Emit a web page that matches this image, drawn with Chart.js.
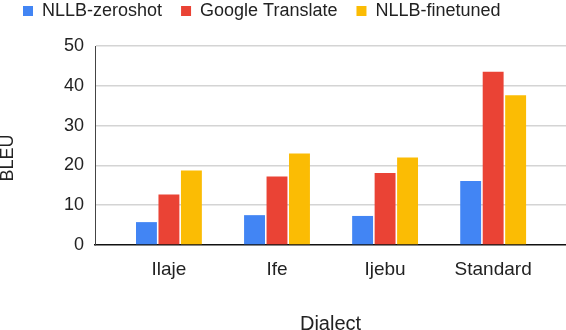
<!DOCTYPE html>
<html>
<head>
<meta charset="utf-8">
<script src="https://cdn.jsdelivr.net/npm/chart.js@4/dist/chart.umd.min.js"></script>
<style>
html,body{margin:0;padding:0;background:#fff;}
#wrap{width:566px;height:330px;position:relative;}
</style>
</head>
<body>
<div id="wrap"><canvas id="c" width="566" height="330"></canvas></div>
<script>
const categories = ["Ilaje", "Ife", "Ijebu", "Standard"];
const seriesNames = ["NLLB-zeroshot", "Google Translate", "NLLB-finetuned"];
const zeroshot = [5.75, 7.5, 7.3, 16.1];
const google = [12.7, 17.2, 18.1, 43.5];
const finetuned = [18.7, 23.0, 22.0, 37.6];
const yTicks = [0, 10, 20, 30, 40, 50];
const colors = ["#4285F4", "#EA4335", "#FBBC04"];
const yTitle = "BLEU";
const xTitle = "Dialect";

const FONT = "'Liberation Sans', Arial, sans-serif";
const toPts = arr => arr.map((v, i) => ({x: i, y: v}));

const PAD_TOP = -17;
const CHART_TOP = 46;

// make the legend box tall enough that the plot area starts at CHART_TOP
const legendHeight = {
  id: 'legendHeight',
  beforeLayout(chart) {
    const lg = chart.legend;
    if (lg && !lg._patched) {
      const orig = lg.fit.bind(lg);
      lg.fit = function () { orig(); this.height = CHART_TOP - PAD_TOP; };
      lg._patched = true;
    }
  }
};

// y-axis title, placed like the reference (rotated, left side)
const yTitlePlugin = {
  id: 'yTitle',
  afterDraw(chart) {
    const ctx = chart.ctx;
    const ys = chart.scales.y;
    const cy = ys.getPixelForValue(ys.min) - 87;
    ctx.save();
    ctx.translate(8.5, cy);
    ctx.rotate(-Math.PI / 2);
    ctx.font = "18px " + FONT;
    ctx.fillStyle = '#222';
    ctx.textAlign = 'center';
    ctx.textBaseline = 'middle';
    ctx.fillText(yTitle, 0, 0);
    ctx.restore();
  }
};

new Chart(document.getElementById('c'), {
  type: 'bar',
  data: {
    datasets: [zeroshot, google, finetuned].map((vals, k) => ({
      label: seriesNames[k],
      data: toPts(vals),
      backgroundColor: colors[k],
      borderWidth: 0,
      categoryPercentage: 0.624,
      barPercentage: 0.93
    }))
  },
  plugins: [legendHeight, yTitlePlugin],
  options: {
    responsive: false,
    animation: false,
    layout: {padding: {top: PAD_TOP, left: 4, right: 0, bottom: -6}},
    plugins: {
      tooltip: {enabled: false},
      legend: {
        position: 'top',
        align: 'start',
        labels: {
          boxWidth: 10,
          boxHeight: 10,
          padding: 19,
          color: '#222',
          font: {family: FONT, size: 18}
        }
      }
    },
    scales: {
      x: {
        type: 'linear',
        offset: false,
        min: -0.684,
        max: 3.674,
        afterBuildTicks: s => { s.ticks = categories.map((c, i) => ({value: i})); },
        afterFit: s => { s.height = 91; },
        grid: {display: false, drawTicks: false},
        border: {display: true, color: '#111', width: 1.5},
        ticks: {
          callback: v => categories[v] ?? '',
          color: '#222',
          padding: 13,
          maxRotation: 0,
          autoSkip: false,
          font: {family: FONT, size: 19}
        },
        title: {
          display: true,
          text: xTitle,
          color: '#222',
          padding: {top: 0, bottom: 0},
          font: {family: FONT, size: 20}
        }
      },
      y: {
        min: 0,
        max: 50,
        afterBuildTicks: s => { s.ticks = yTicks.map(v => ({value: v})); },
        afterFit: s => { s.width = 91; },
        grid: {
          drawTicks: false,
          color: ctx => ctx.tick && ctx.tick.value === 0 ? 'rgba(0,0,0,0)' : '#d4d4d4',
          lineWidth: 1.5
        },
        border: {display: true, color: '#444', width: 1},
        ticks: {
          color: '#222',
          padding: 11,
          font: {family: FONT, size: 18}
        },
        title: {display: false}
      }
    }
  }
});
</script>
</body>
</html>
